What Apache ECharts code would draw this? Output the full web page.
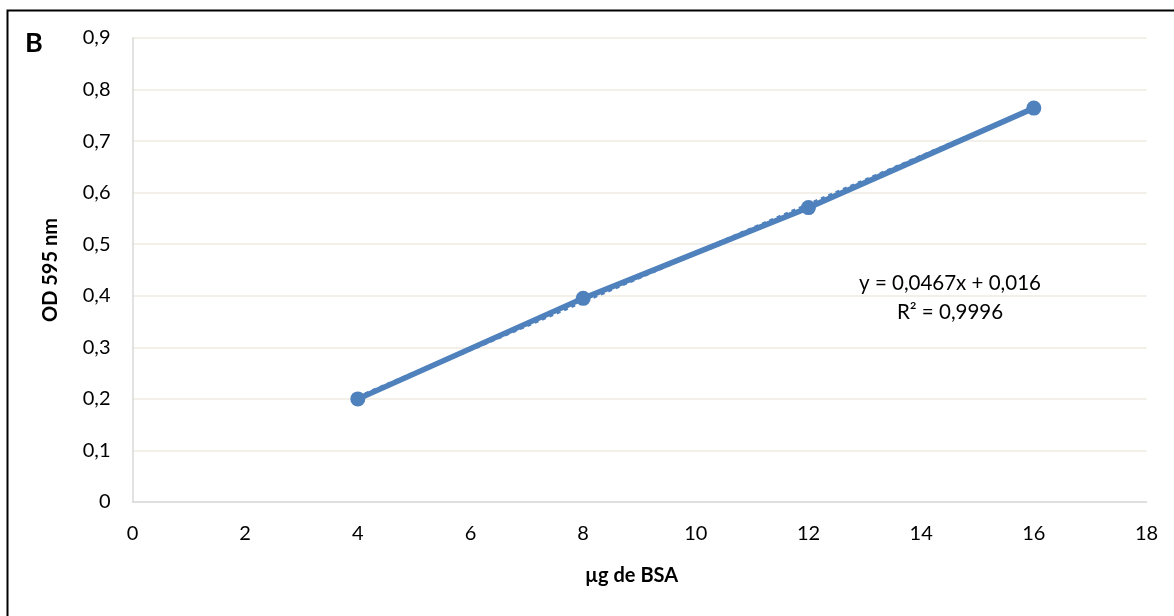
<!DOCTYPE html>
<html>
<head>
<meta charset="utf-8">
<script src="https://cdn.jsdelivr.net/npm/echarts@6/dist/echarts.min.js"></script>
<style>
html,body{margin:0;padding:0;background:#fff;}
#c{width:1174px;height:616px;}
</style>
</head>
<body>
<div id="c"></div>
<script>
const xValues = [4, 8, 12, 16];
const yValues = [0.2, 0.395, 0.571, 0.764];
const trendSlope = 0.0467;
const trendIntercept = 0.016;
const trendX = [4, 16];
const eqLines = ["y = 0,0467x + 0,016", "R² = 0,9996"];
const panelLabel = "B";
const xTitle = "µg de BSA";
const yTitle = "OD 595 nm";

const fmt = v => String(Math.round(v * 10) / 10).replace('.', ',');
const FONT = 'Lato, "Open Sans", "Liberation Sans", sans-serif';
const COLOR = '#4F81BD';

const chart = echarts.init(document.getElementById('c'), null, {renderer: 'canvas'});
chart.setOption({
  animation: false,
  backgroundColor: '#fff',
  grid: {left: 132.5, right: 27.5, top: 38, bottom: 114},
  xAxis: {
    type: 'value', min: 0, max: 18, interval: 2,
    name: xTitle, nameLocation: 'middle', nameGap: 64,
    nameTextStyle: {fontFamily: FONT, fontSize: 20, fontWeight: 'bold', color: '#000', padding: [0, 16, 0, 0]},
    axisLine: {show: true, lineStyle: {color: '#D9D9D9', width: 1.5}},
    axisTick: {show: false},
    axisLabel: {fontFamily: FONT, fontSize: 20, color: '#000', margin: 22},
    splitLine: {show: false}
  },
  yAxis: {
    type: 'value', min: 0, max: 0.9, interval: 0.1,
    name: yTitle, nameLocation: 'middle', nameGap: 72,
    nameTextStyle: {fontFamily: FONT, fontSize: 20, fontWeight: 'bold', color: '#000'},
    axisLine: {show: true, lineStyle: {color: '#D9D9D9', width: 1.5}},
    axisTick: {show: false},
    axisLabel: {fontFamily: FONT, fontSize: 20, color: '#000', margin: 22, formatter: fmt},
    splitLine: {show: true, lineStyle: {color: '#EEEBE0', width: 1.5}}
  },
  series: [
    {
      type: 'line',
      data: trendX.map(x => [x, trendSlope * x + trendIntercept]),
      showSymbol: false, symbol: 'none',
      lineStyle: {color: COLOR, width: 4, type: 'dotted'},
      z: 2
    },
    {
      type: 'line',
      data: xValues.map((x, i) => [x, yValues[i]]),
      symbol: 'circle', symbolSize: 15,
      itemStyle: {color: COLOR},
      lineStyle: {color: COLOR, width: 5.5},
      z: 3
    }
  ],
  graphic: [
    {type: 'rect', left: 5, top: 8, shape: {width: 1200, height: 700},
     style: {fill: 'none', stroke: '#000', lineWidth: 2}, z: 0, silent: true},
    {type: 'text', left: 25, top: 30, style: {text: panelLabel, font: 'bold 27px ' + FONT, fill: '#000'}},
    {type: 'text', x: 950, y: 283, style: {text: eqLines[0], font: '20.5px ' + FONT, fill: '#000', align: 'center', verticalAlign: 'middle'}},
    {type: 'text', x: 950, y: 312, style: {text: eqLines[1], font: '20.5px ' + FONT, fill: '#000', align: 'center', verticalAlign: 'middle'}}
  ]
});
</script>
</body>
</html>
